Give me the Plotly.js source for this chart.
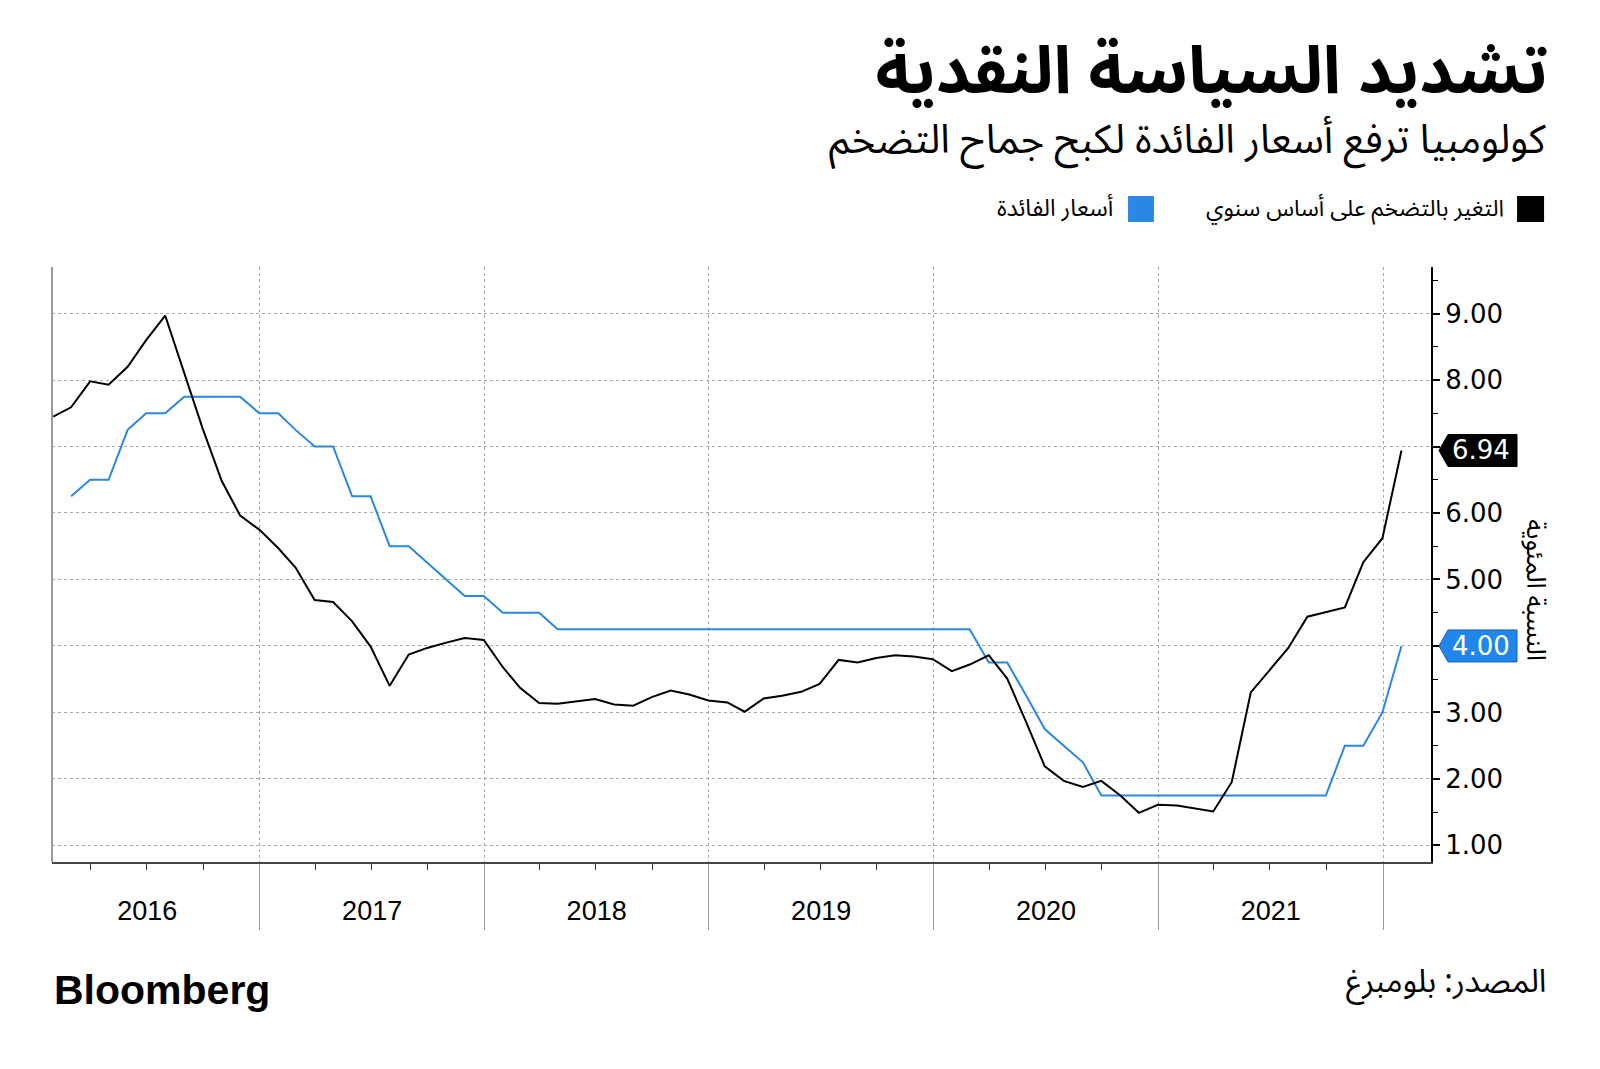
<!DOCTYPE html>
<html>
<head>
<meta charset="utf-8">
<script src="https://cdn.plot.ly/plotly-3.0.1.min.js"></script>
<style>
html,body{margin:0;padding:0;background:#fff;}
#chart{width:1600px;height:1069px;}
</style>
</head>
<body>
<div id="chart"></div>
<script>
// ---- data (month-end observations, Jan 2016 .. Jan 2022) ----
var startYear = 2016, startMonth = 0, monthCount = 73;

var inflationYoY = [
  7.45,7.59,7.98,7.93,8.20,8.60,8.97,8.10,7.27,6.48,5.96,5.75,
  5.47,5.18,4.69,4.66,4.37,3.99,3.40,3.87,3.97,4.05,4.12,4.09,
  3.68,3.37,3.14,3.13,3.16,3.20,3.12,3.10,3.23,3.33,3.27,3.18,
  3.15,3.01,3.21,3.25,3.31,3.43,3.79,3.75,3.82,3.86,3.84,3.80,
  3.62,3.72,3.86,3.51,2.85,2.19,1.97,1.88,1.97,1.75,1.49,1.61,
  1.60,1.56,1.51,1.95,3.30,3.63,3.97,4.44,4.51,4.58,5.26,5.62,
  6.94
];
var policyRate = [
  null,6.25,6.50,6.50,7.25,7.50,7.50,7.75,7.75,7.75,7.75,7.50,
  7.50,7.25,7.00,7.00,6.25,6.25,5.50,5.50,5.25,5.00,4.75,4.75,
  4.50,4.50,4.50,4.25,4.25,4.25,4.25,4.25,4.25,4.25,4.25,4.25,
  4.25,4.25,4.25,4.25,4.25,4.25,4.25,4.25,4.25,4.25,4.25,4.25,
  4.25,4.25,3.75,3.75,3.25,2.75,2.50,2.25,1.75,1.75,1.75,1.75,
  1.75,1.75,1.75,1.75,1.75,1.75,1.75,1.75,1.75,2.50,2.50,3.00,
  4.00
];
var yTickValues = [1,2,3,4,5,6,7,8,9];

var titleText = 'تشديد السياسة النقدية';
var subtitleText = 'كولومبيا ترفع أسعار الفائدة لكبح جماح التضخم';
var inflationName = 'التغير بالتضخم على أساس سنوي';
var rateName = 'أسعار الفائدة';
var yTitleText = 'النسبة المئوية';
var sourceText = 'المصدر: بلومبرغ';
var brandText = 'Bloomberg';

// ---- dates (month ends) ----
function pad(n){return (n<10?'0':'')+n;}
var dates = [];
for (var i=0;i<monthCount;i++){
  var d = new Date(Date.UTC(startYear, startMonth+i+1, 0));
  dates.push(d.getUTCFullYear()+'-'+pad(d.getUTCMonth()+1)+'-'+pad(d.getUTCDate()));
}

var BLACK = '#000000', BLUE = '#2a87e4';
var arabicFont = 'Noto Sans Arabic, DejaVu Sans, sans-serif';

var traces = [
  {x: dates, y: policyRate, type:'scatter', mode:'lines', name: rateName,
   line:{color:BLUE, width:2}, connectgaps:false, hoverinfo:'x+y'},
  {x: dates, y: inflationYoY, type:'scatter', mode:'lines', name: inflationName,
   line:{color:BLACK, width:2}, hoverinfo:'x+y'}
];

var lastInfl = inflationYoY[inflationYoY.length-1];
var lastRate = policyRate[policyRate.length-1];

// tick labels hidden behind the last-value tags
var yTickText = yTickValues.map(function(v){
  return (Math.abs(v-lastInfl) < 0.3 || Math.abs(v-lastRate) < 0.3) ? '' : v.toFixed(2);
});

function tagShape(yv, color, border){
  return {type:'path', xref:'paper', yref:'y', xsizemode:'pixel', ysizemode:'pixel',
    xanchor:1, yanchor:yv,
    path:'M 8 0 L 17 16 L 86 16 L 86 -16 L 17 -16 Z',
    fillcolor:color, line:{color:border, width:1}, layer:'above'};
}

var layout = {
  width:1600, height:1069,
  paper_bgcolor:'#ffffff', plot_bgcolor:'#ffffff',
  margin:{l:52, r:169, t:267, b:207},
  showlegend:false,
  title:{text:'<b>'+titleText+'</b>', xref:'container', yref:'container',
    x:0.9675, xanchor:'right', y:0.9345, yanchor:'middle',
    font:{family:arabicFont, size:66, color:'#000'}},
  xaxis:{
    type:'date',
    range:['2016-01-29','2022-03-20'],
    tickmode:'linear', tick0:'2016-01-01', dtick:'M12',
    ticklabelmode:'period', tickformat:'%Y',
    ticks:'outside', ticklen:66, tickwidth:1, tickcolor:'#9a9a9a',
    ticklabelstandoff:-42,
    tickfont:{family:'Liberation Sans, Arial, sans-serif', size:27, color:'#000'},
    showgrid:true, gridcolor:'#a8a8a8', griddash:'dot', gridwidth:1,
    showline:true, linecolor:'#444', linewidth:1.5,
    minor:{dtick:'M3', tick0:'2016-01-01', ticks:'outside', ticklen:6, tickwidth:1, tickcolor:'#333', showgrid:false},
    zeroline:false, fixedrange:true
  },
  yaxis:{
    side:'right',
    range:[0.75, 9.7],
    tickmode:'array', tickvals:yTickValues, ticktext:yTickText,
    ticks:'outside', ticklen:7, tickwidth:2, tickcolor:'#000',
    tickfont:{family:'DejaVu Sans, sans-serif', size:26, color:'#000'},
    showgrid:true, gridcolor:'#a8a8a8', griddash:'dot', gridwidth:1,
    showline:true, linecolor:'#000', linewidth:2,
    minor:{dtick:0.5, tick0:0.5, ticks:'outside', ticklen:5, tickwidth:1, tickcolor:'#000', showgrid:false},
    zeroline:false, fixedrange:true
  },
  shapes:[
    // left frame line
    {type:'line', xref:'paper', yref:'paper', x0:0, x1:0, y0:0, y1:1, line:{color:'#9a9a9a', width:2}},
    // legend swatches
    {type:'rect', xref:'paper', yref:'paper', x0:1.0624, x1:1.0820, y0:1.0756, y1:1.1193, fillcolor:BLACK, line:{width:0}},
    {type:'rect', xref:'paper', yref:'paper', x0:0.7803, x1:0.7991, y0:1.0756, y1:1.1193, fillcolor:BLUE, line:{width:0}},
    tagShape(lastInfl, '#000000', '#000000'),
    tagShape(lastRate, '#2186eb', '#1b5fa8')
  ],
  annotations:[
    {text:subtitleText, xref:'paper', yref:'paper', x:1.0848, y:1.2120, xanchor:'right', yanchor:'middle',
     showarrow:false, font:{family:arabicFont, size:40, color:'#000'}},
    {text:inflationName, xref:'paper', yref:'paper', x:1.0544, y:1.0975, xanchor:'right', yanchor:'middle',
     showarrow:false, font:{family:arabicFont, size:23, color:'#000'}},
    {text:rateName, xref:'paper', yref:'paper', x:0.7708, y:1.0975, xanchor:'right', yanchor:'middle',
     showarrow:false, font:{family:arabicFont, size:23.5, color:'#000'}},
    {text:yTitleText, xref:'paper', yref:'paper', x:1.0761, y:0.457, xanchor:'center', yanchor:'middle',
     textangle:90, showarrow:false, font:{family:arabicFont, size:26, color:'#000'}},
    {text:lastInfl.toFixed(2), xref:'paper', yref:'y', x:1, y:lastInfl, xshift:50, xanchor:'center', yanchor:'middle',
     showarrow:false, font:{family:'DejaVu Sans, sans-serif', size:26, color:'#fff'}},
    {text:lastRate.toFixed(2), xref:'paper', yref:'y', x:1, y:lastRate, xshift:50, xanchor:'center', yanchor:'middle',
     showarrow:false, font:{family:'DejaVu Sans, sans-serif', size:26, color:'#fff'}},
    {text:'<b>'+brandText+'</b>', xref:'paper', yref:'paper', x:0, y:-0.215, xanchor:'left', yanchor:'middle',
     showarrow:false, font:{family:'Liberation Sans, Arial, sans-serif', size:41, color:'#000'}},
    {text:sourceText, xref:'paper', yref:'paper', x:1.0848, y:-0.2017, xanchor:'right', yanchor:'middle',
     showarrow:false, font:{family:arabicFont, size:32, color:'#000'}}
  ]
};

Plotly.newPlot('chart', traces, layout, {displayModeBar:false, staticPlot:true});
</script>
</body>
</html>
